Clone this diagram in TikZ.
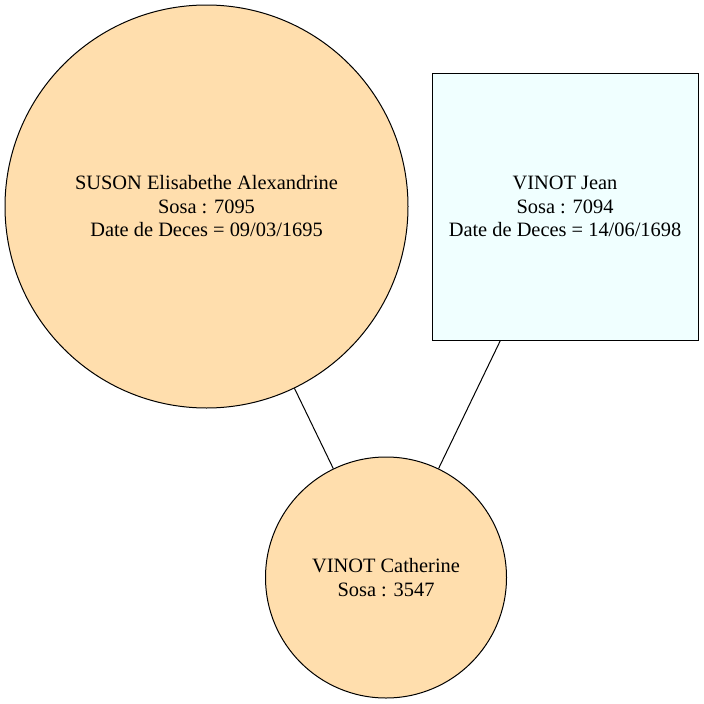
\documentclass[tikz,border=0pt]{standalone}
\usepackage{fontspec}
\setmainfont{Liberation Serif}
\definecolor{navajo}{HTML}{FFDEAD}
\definecolor{azurec}{HTML}{F0FFFF}
\begin{document}
\begin{tikzpicture}[x=1pt,y=-1pt,
  person/.style={draw=black, line width=1pt, inner sep=0pt, align=center,
    font=\fontsize{20.4}{23.5}\selectfont},
  fem/.style={person, circle, fill=navajo},
  man/.style={person, rectangle, fill=azurec, minimum width=266pt, minimum height=267pt},
  link/.style={draw=black, line width=1pt}]
\useasboundingbox (0,0) rectangle (704,704);
\node[fem, minimum size=403pt] (suson) at (206.5,206.5) {SUSON Elisabethe Alexandrine\\Sosa : 7095\\Date de Deces = 09/03/1695};
\node[man] (jean) at (565,206.5) {VINOT Jean\\Sosa : 7094\\Date de Deces = 14/06/1698};
\node[fem, minimum size=241pt] (cath) at (386,577.5) {VINOT Catherine\\Sosa : 3547};
\draw[link] (suson) -- (cath);
\draw[link] (jean) -- (cath);
\end{tikzpicture}
\end{document}
